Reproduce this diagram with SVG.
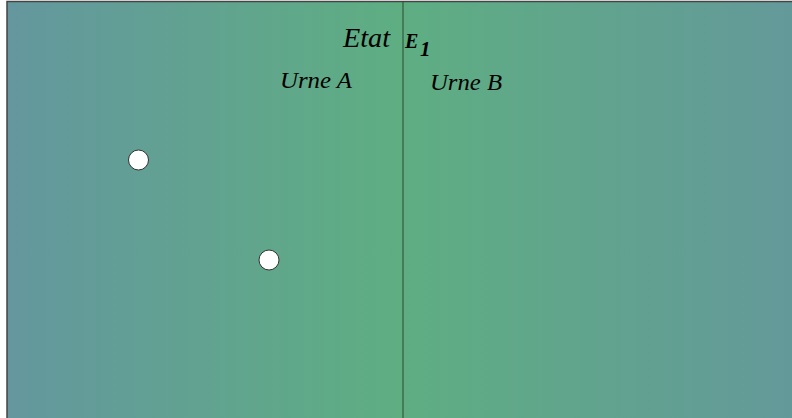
<svg xmlns="http://www.w3.org/2000/svg" width="792" height="418" viewBox="0 0 792 418">
<defs>
<linearGradient id="bg" x1="0" y1="0" x2="1" y2="0">
<stop offset="0" stop-color="#64979e"/>
<stop offset="0.5" stop-color="#5eae82"/>
<stop offset="1" stop-color="#64999a"/>
</linearGradient>
<style>
.t{font-family:"Liberation Serif","Times New Roman",serif;font-style:italic;fill:#000}
.ball{fill:#fff;stroke:#333;stroke-width:1}
</style>
</defs>
<rect x="0" y="0" width="792" height="418" fill="#fff"/>
<rect x="7" y="1" width="786" height="418" fill="url(#bg)"/>
<path d="M7 418 V1.5 H792" fill="none" stroke="#444" stroke-width="1.5"/>
<g id="connectors">
<line x1="403" y1="1" x2="403" y2="418" stroke="#2a4a35" stroke-width="1"/>
</g>
<g id="title">
<text class="t" x="343" y="47" font-size="27" textLength="47" lengthAdjust="spacingAndGlyphs">Etat</text>
<text class="t" x="405" y="48" font-size="20" font-weight="bold">E</text>
<text class="t" x="420" y="56" font-size="21" font-weight="bold">1</text>
</g>
<g id="urneA"><text class="t" x="280" y="88" font-size="23" textLength="72" lengthAdjust="spacingAndGlyphs">Urne A</text></g>
<g id="urneB"><text class="t" x="430" y="90" font-size="23" textLength="72" lengthAdjust="spacingAndGlyphs">Urne B</text></g>
<g id="ball1"><circle class="ball" cx="138.5" cy="160" r="10"/></g>
<g id="ball2"><circle class="ball" cx="269" cy="260" r="10"/></g>
</svg>
